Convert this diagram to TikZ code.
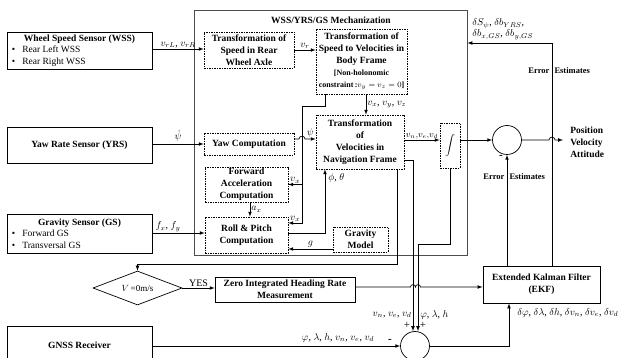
\documentclass[tikz,border=0pt]{standalone}
\usepackage{fontspec}
\setmainfont{Liberation Serif}
\usetikzlibrary{positioning,calc,shapes.geometric}

\begin{document}
\begin{tikzpicture}[
            x=1pt, y=-1pt,
            >=latex,
            line width=0.7pt,
            font=\fontsize{9}{11}\selectfont,
            sensor/.style={draw, line width=0.9pt, rectangle, minimum width=145pt, inner sep=0pt, font=\fontsize{9.5}{11.5}\selectfont\bfseries},
            block/.style={draw, line width=0.6pt, dash pattern=on 1.5pt off 1pt, rectangle, align=center, inner sep=0pt, font=\fontsize{9.5}{12}\selectfont\bfseries},
            solidbox/.style={draw, line width=0.9pt, rectangle, align=center, inner sep=0pt, font=\fontsize{9.5}{12}\selectfont\bfseries},
            sumnode/.style={draw, circle, minimum size=29pt, inner sep=0pt},
            lbl/.style={font=\fontsize{10}{11}\selectfont, inner sep=1pt}
        ]
        \useasboundingbox (0,0) rectangle (622,358);

        % mechanization frame
        \node[draw, black!70, line width=0.9pt, minimum width=273pt, minimum height=245pt, inner sep=0pt] (mech) at (330.5,132.5) {};
        \node[font=\fontsize{9.5}{12}\selectfont\bfseries] (mechtitle) at (331,20) {WSS/YRS/GS Mechanization};

        % sensors
        \node[sensor, minimum height=37pt, align=left] (wss) at (79.5,50.5)
            {\makebox[135pt]{Wheel Speed Sensor (WSS)}\\
             \mdseries\textbullet\hspace{7pt}Rear Left WSS\\
             \mdseries\textbullet\hspace{7pt}Rear Right WSS};
        \node[sensor, minimum height=36pt] (yrs) at (79.5,145) {Yaw Rate Sensor (YRS)};
        \node[sensor, minimum height=39pt, align=left] (gs) at (79.5,233.5)
            {\makebox[135pt]{Gravity Sensor (GS)}\\
             \mdseries\textbullet\hspace{7pt}Forward GS\\
             \mdseries\textbullet\hspace{7pt}Transversal GS};
        \node[sensor, minimum height=38pt] (gnss) at (79.5,345) {GNSS Receiver};

        % mechanization blocks
        \node[block, minimum width=90pt, minimum height=36pt] (axle) at (249,50) {Transformation of\\Speed in Rear\\Wheel Axle};
        \node[block, minimum width=91pt, minimum height=65pt] (body) at (361.5,61.5)
            {Transformation of\\Speed to Velocities in\\Body Frame\\{\fontsize{8}{10}\selectfont [Non-holonomic}\\{\fontsize{8}{10}\selectfont constraint\,:$v_y=v_z=0$]}};
        \node[block, minimum width=88pt, minimum height=54pt] (nav) at (360,142) {Transformation\\of\\Velocities in\\Navigation Frame};
        \node[block, minimum width=90pt, minimum height=22pt] (yaw) at (249,144) {Yaw Computation};
        \node[block, minimum width=83pt, minimum height=35pt] (fwd) at (246.5,184.5) {Forward\\Acceleration\\Computation};
        \node[block, minimum width=83pt, minimum height=36pt] (roll) at (246.5,235) {Roll \& Pitch\\Computation};
        \node[block, minimum width=55pt, minimum height=25pt] (grav) at (360.5,239.5) {Gravity\\Model};
        \node[block, minimum width=20pt, minimum height=45pt] (integ) at (450,145.5) {$\displaystyle\int$};

        % fusion part
        \node[sumnode] (sumout) at (507,140) {};
        \node[align=left, anchor=west, inner sep=0pt, font=\fontsize{9.5}{12}\selectfont\bfseries] (pva) at (570,142) {Position\\Velocity\\Attitude};
        \node[solidbox, minimum width=117pt, minimum height=37pt] (ekf) at (541.5,284.5) {Extended Kalman Filter\\(EKF)};
        \node[solidbox, line width=0.7pt, minimum width=140pt, minimum height=25pt] (zihr) at (285,289.5) {Zero Integrated Heading Rate\\Measurement};
        \node[draw, diamond, aspect=2.6, minimum width=89pt, minimum height=34pt, inner sep=0pt] (zero) at (137.5,288) {$V$\,=0m/s};
        \node[sumnode] (sumgnss) at (415,346) {};

        % sensor inputs
        \draw[->] (wss.east |- 0,49) -- (axle.west |- 0,49) node[lbl, midway, above] {$v_{rL}$, $v_{rR}$};
        \draw[->] (yrs.east |- 0,144) -- (yaw.west |- 0,144) node[lbl, midway, above=1pt] {$\dot{\psi}$};
        \draw[->] (gs.east |- 0,233) -- (roll.west |- 0,233) node[lbl, pos=0.3, above] {$f_x$, $f_y$};

        % inside the mechanization
        \draw[->] (axle.east) -- (axle.east -| body.west) node[lbl, midway, above] {$v_r$};
        \draw[->] (body.south -| 366,0) -- (nav.north -| 366,0) node[lbl, midway, right] {$v_x$, $v_y$, $v_z$};
        \coordinate (vxsplit) at (302,106);
        \draw (body.south -| 325,0) |- (vxsplit);
        \draw[->] (vxsplit) |- (fwd.east) node[lbl, pos=0.75, above] {$v_x$};
        \draw[->] (vxsplit) |- (roll.east |- 0,223) node[lbl, pos=0.75, above] {$v_x$};
        \draw[->] (yaw.east |- 0,139) -- (299,139) to[out=90, in=90, looseness=1.6] (305,139) -- (nav.west |- 0,139) node[lbl, midway, above] {$\psi$};
        \draw[->] (fwd.south -| 250,0) -- (roll.north -| 250,0) node[lbl, midway, right] {$a_x$};
        \draw[->] (roll.east |- 0,233) -| (nav.south -| 325,0);
        \node[lbl, anchor=west] (attlbl) at (327,178) {$\phi$, $\theta$};
        \draw[->] (grav.west |- 0,249) -- (roll.east |- 0,249) node[lbl, midway, above] {$g$};
        \draw[->] (nav.east |- 0,140) -- (integ.west |- 0,140) node[lbl, midway, above, font=\fontsize{9}{10}\selectfont, inner sep=0.5pt] {$v_n,\!v_e,\!v_d$};

        % output and error feedback
        \draw[->] (integ.east |- 0,140) -- (sumout.west);
        \draw[->] (sumout.east) -- (549,140) to[out=90, in=90, looseness=1.6] (555,140) -- ([xshift=-7pt]pva.west |- 0,140);
        \draw[->] (ekf.north -| 552,0) |- (mech.east |- 0,43);
        \node[lbl, anchor=south west, align=left] (biaslbl) at (471,41) {$\delta S_\psi$, $\delta b_{YRS}$,\\$\delta b_{x,GS}$, $\delta b_{y,GS}$};
        \node[font=\fontsize{8.5}{10}\selectfont\bfseries] (errtop) at (552,71) {\makebox[0pt][r]{Error}\hspace{5pt}\makebox[0pt][l]{Estimates}};
        \draw[->] (ekf.north -| 507,0) -- (sumout.south);
        \node[lbl, font=\fontsize{11}{12}\selectfont\bfseries] (minusout) at (501,157) {-};
        \node[font=\fontsize{8.5}{10}\selectfont\bfseries] (errmid) at (507,177) {\makebox[0pt][r]{Error}\hspace{5pt}\makebox[0pt][l]{Estimates}};

        % zero velocity check
        \draw[->] (nav.south -| 397,0) |- (zero.north |- 0,264) -- (zero.north);
        \draw[->] (zero.east) -- (zihr.west |- zero.east) node[lbl, midway, above] {YES};
        \draw[->] (zihr.east |- 0,287) -- (410.5,287) to[out=90, in=90, looseness=1.6] (415.5,287) to[out=90, in=90, looseness=1.6] (420.5,287) -- (ekf.west |- 0,287);

        % GNSS comparison
        \draw[->] (nav.east |- 0,160) -| (sumgnss.north -| 413,0);
        \coordinate (possplit) at (418,244);
        \draw[->] (integ.south) |- (possplit) -- (possplit |- sumgnss.north);
        \node[lbl, anchor=east] (vnedlbl) at (413,315) {$v_n$, $v_e$, $v_d$};
        \node[lbl, anchor=west] (plhlbl) at (419,315) {$\varphi$, $\lambda$, $h$};
        \node[lbl, font=\fontsize{11}{12}\selectfont] (plusv) at (407,325) {+};
        \node[lbl, font=\fontsize{11}{12}\selectfont] (plusp) at (423,325) {+};
        \draw[->] (gnss.east |- sumgnss.west) -- (sumgnss.west);
        \node[lbl] (gnsslbl) at (338,338) {$\varphi$, $\lambda$, $h$, $v_n$, $v_e$, $v_d$};
        \node[lbl, font=\fontsize{11}{12}\selectfont\bfseries] (minusgnss) at (390,341) {-};
        \draw[->] (sumgnss.east) -| (ekf.south -| 509,0);
        \node[lbl, anchor=west] (dlbl) at (516,313) {$\delta\varphi$, $\delta\lambda$, $\delta h$, $\delta v_n$, $\delta v_e$, $\delta v_d$};
    \end{tikzpicture}
\end{document}
